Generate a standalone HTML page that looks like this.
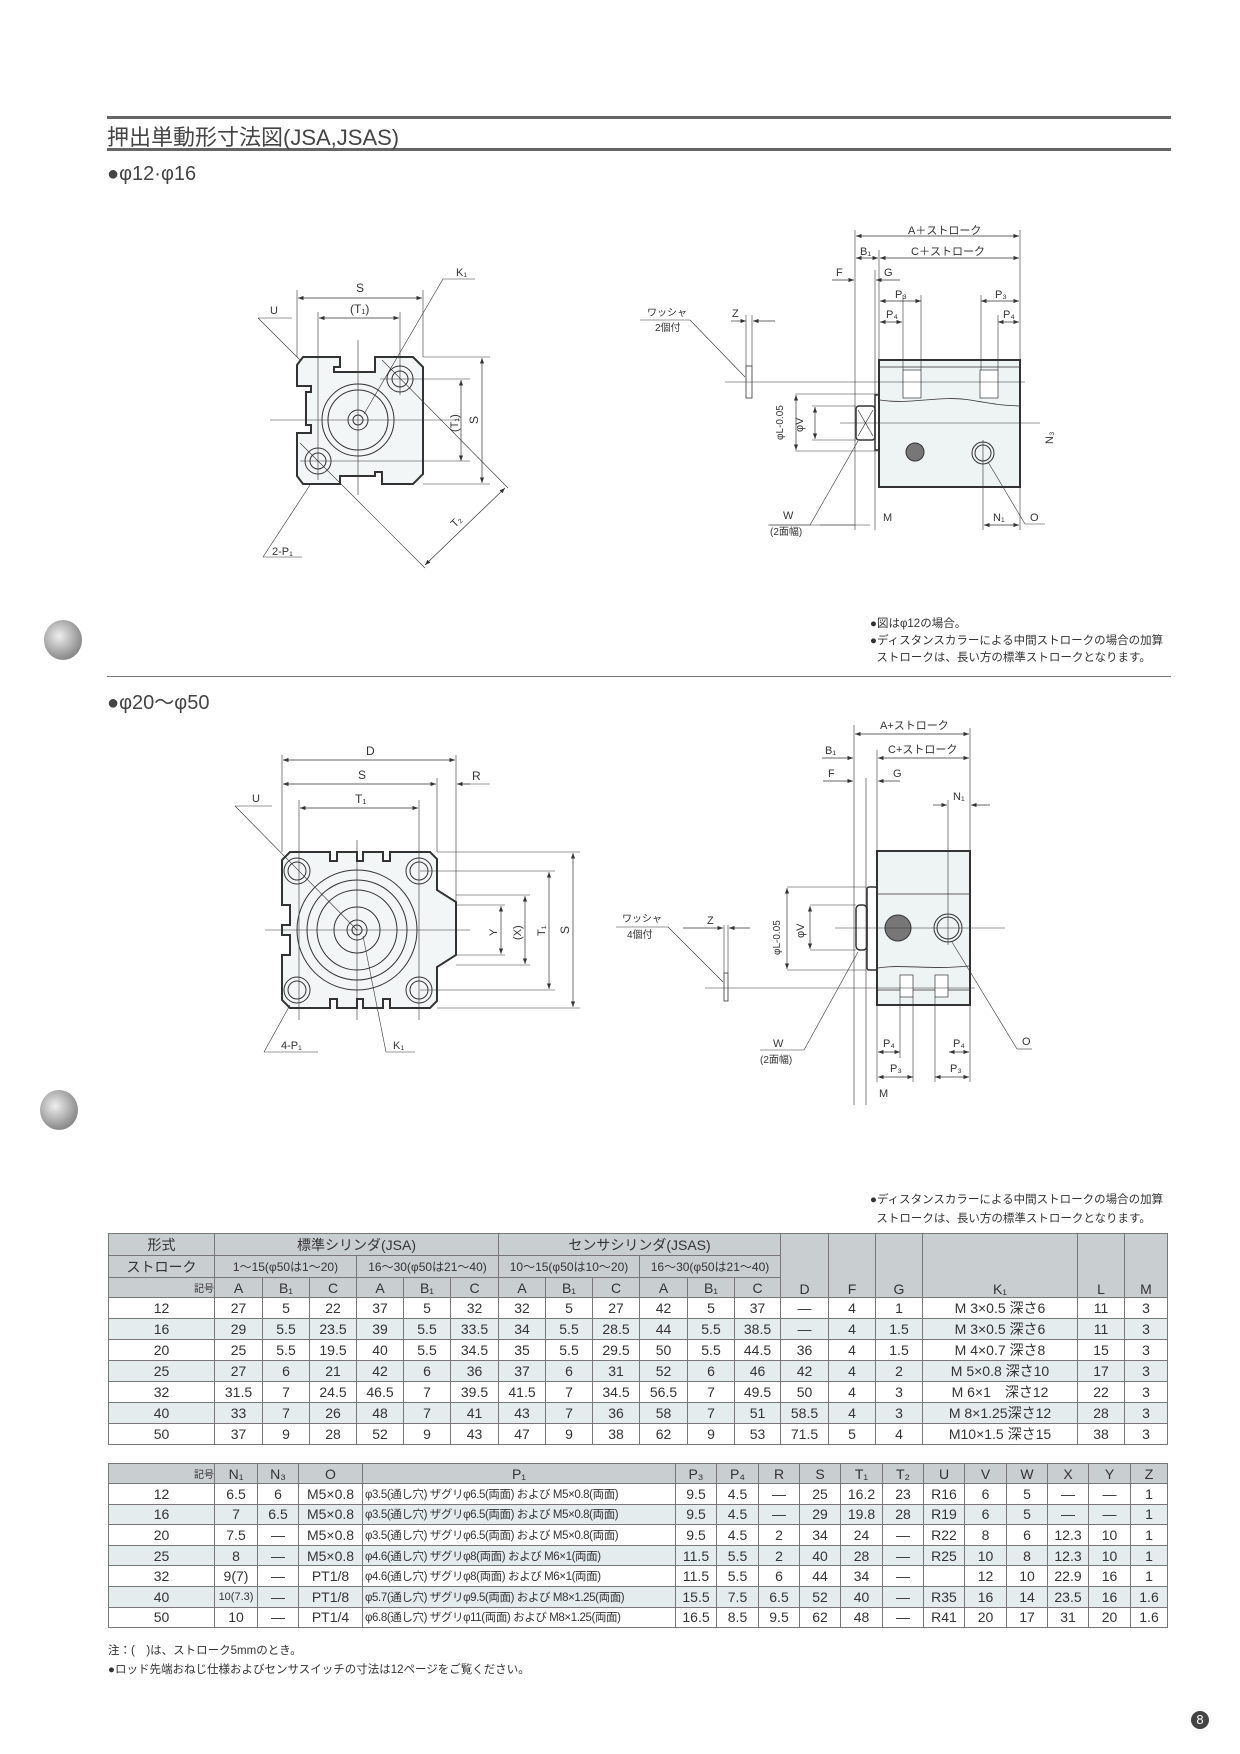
<!DOCTYPE html>
<html><head><meta charset="utf-8"><style>
body{margin:0;background:#fff;}
#pg{position:relative;width:1240px;height:1754px;overflow:hidden;background:#fff;font-family:"Liberation Sans","Noto Sans CJK JP",sans-serif;color:#333;}
.t{position:absolute;white-space:nowrap;}
table{position:absolute;border-collapse:collapse;table-layout:fixed;font-family:"Liberation Sans","Noto Sans CJK JP",sans-serif;color:#333;}
td{border:1px solid #777;text-align:center;padding:0;overflow:hidden;white-space:nowrap;font-size:14px;}
tr.h td{background:#c9ced1;}
tr.a td{background:#e4ecee;}
td.p{font-size:11.5px;letter-spacing:-0.4px;text-align:left;padding-left:2px;}
svg text{font-family:"Liberation Sans","Noto Sans CJK JP",sans-serif;fill:#333;}
</style></head><body><div id="pg">
<div style="position:absolute;left:107px;top:116px;width:1064px;height:3px;background:#666"></div>
<div style="position:absolute;left:107px;top:148px;width:1064px;height:3px;background:#666"></div>
<div class="t" style="left:107px;top:120px;font-size:22px;color:#444">押出単動形寸法図(JSA,JSAS)</div>
<div class="t" style="left:107px;top:163px;font-size:20px;color:#444">●φ12·φ16</div>
<div style="position:absolute;left:107px;top:676px;width:1064px;height:1px;background:#777"></div>
<div class="t" style="left:107px;top:686px;font-size:20px;color:#444">●φ20〜φ50</div>
<div class="t" style="left:870px;top:616px;font-size:11.5px;line-height:17px">●図はφ12の場合。<br>●ディスタンスカラーによる中間ストロークの場合の加算<br>&nbsp;&nbsp;ストロークは、長い方の標準ストロークとなります。</div>
<div class="t" style="left:870px;top:1191px;font-size:11.5px;line-height:19px">●ディスタンスカラーによる中間ストロークの場合の加算<br>&nbsp;&nbsp;ストロークは、長い方の標準ストロークとなります。</div>
<div style="position:absolute;left:44px;top:620px;width:38px;height:40px;border-radius:50%;background:radial-gradient(circle at 40% 40%,#eee,#999 60%,#666)"></div>
<div style="position:absolute;left:40px;top:1090px;width:38px;height:40px;border-radius:50%;background:radial-gradient(circle at 40% 40%,#eee,#999 60%,#666)"></div>
<div style="position:absolute;left:1191px;top:1711px;width:18px;height:18px;border-radius:50%;background:#444;color:#fff;font-size:13px;text-align:center;line-height:18px">8</div>
<div class="t" style="left:108px;top:1642px;font-size:11.5px;line-height:19px">注：(　)は、ストローク5mmのとき。<br>●ロッド先端おねじ仕様およびセンサスイッチの寸法は12ページをご覧ください。</div>

<svg width="1240" height="1754" style="position:absolute;left:0;top:0" stroke="#333" fill="none" stroke-width="1">
<defs><marker id="ar" markerWidth="8" markerHeight="6" refX="8" refY="3" orient="auto-start-reverse"><path d="M0,0L8,3L0,6z" fill="#333" stroke="none"/></marker></defs>
<!-- top-left front view -->
<path d="M303,357 L340,357 L340,367 L334,367 L334,372 L375,372 L375,357 L413,357 L423,367 L423,474 L413,484 L382,484 L382,472 L375,472 L375,476 L340,476 L340,484 L303,484 L297,476 L297,433 L311,433 L311,425 L306,425 L306,392 L311,392 L311,386 L297,386 L297,365 Z" stroke-width="2" fill="#f3f6f6"/>
<circle cx="358" cy="420" r="36"/><circle cx="358" cy="420" r="30"/><circle cx="358" cy="420" r="10"/><circle cx="358" cy="420" r="5"/>
<circle cx="400" cy="379" r="13"/><circle cx="400" cy="379" r="8"/><circle cx="318" cy="461" r="13"/><circle cx="318" cy="461" r="8"/>
<line x1="270" y1="420" x2="460" y2="420" stroke-width=".6"/><line x1="358" y1="340" x2="358" y2="495" stroke-width=".6"/>
<line x1="297" y1="290" x2="297" y2="357" stroke-width=".6"/><line x1="423" y1="290" x2="423" y2="357" stroke-width=".6"/>
<line x1="318" y1="312" x2="318" y2="480" stroke-width=".6"/><line x1="400" y1="312" x2="400" y2="395" stroke-width=".6"/>
<line x1="298" y1="298" x2="422" y2="298" marker-start="url(#ar)" marker-end="url(#ar)" stroke-width=".7"/>
<line x1="319" y1="318" x2="399" y2="318" marker-start="url(#ar)" marker-end="url(#ar)" stroke-width=".7"/>
<line x1="423" y1="357" x2="490" y2="357" stroke-width=".6"/><line x1="423" y1="484" x2="490" y2="484" stroke-width=".6"/>
<line x1="482" y1="358" x2="482" y2="483" marker-start="url(#ar)" marker-end="url(#ar)" stroke-width=".7"/>
<line x1="461" y1="380" x2="461" y2="461" marker-start="url(#ar)" marker-end="url(#ar)" stroke-width=".7"/>
<line x1="380" y1="379" x2="470" y2="379" stroke-width=".6"/><line x1="300" y1="461" x2="470" y2="461" stroke-width=".6"/>
<line x1="382" y1="360" x2="508" y2="488" stroke-width=".6"/><line x1="300" y1="443" x2="425" y2="568" stroke-width=".6"/>
<line x1="505" y1="488" x2="425" y2="565" marker-start="url(#ar)" marker-end="url(#ar)" stroke-width=".7"/>
<line x1="258" y1="318" x2="300" y2="360" stroke-width=".6"/><line x1="258" y1="318" x2="292" y2="318" stroke-width=".6"/>
<line x1="364" y1="414" x2="443" y2="279" stroke-width=".6"/><line x1="443" y1="279" x2="475" y2="279" stroke-width=".6"/>
<line x1="310" y1="485" x2="263" y2="557" stroke-width=".6"/><line x1="263" y1="557" x2="302" y2="557" stroke-width=".6"/>
<text x="356" y="292" font-size="12" stroke="none">S</text><text x="350" y="313" font-size="12" stroke="none">(T₁)</text>
<text x="456" y="276" font-size="11" stroke="none">K₁</text><text x="270" y="314" font-size="11" stroke="none">U</text>
<text x="272" y="555" font-size="11" stroke="none">2-P₁</text>
<text x="478" y="424" font-size="12" stroke="none" transform="rotate(-90 478 424)">S</text>
<text x="458" y="432" font-size="11" stroke="none" transform="rotate(-90 458 432)">(T₁)</text>
<text x="455" y="528" font-size="11" stroke="none" transform="rotate(-45 455 528)">T₂</text>

<!-- top-right side view -->
<rect x="879" y="360" width="141" height="127" stroke-width="2" fill="#eef3f3"/>
<path d="M880,367 L1019,367 M880,400 C910,405 940,395 970,400 S1000,405 1019,406" stroke-width=".8"/>
<rect x="903" y="370" width="18" height="28" fill="#fff" stroke-width=".7"/><rect x="980" y="370" width="18" height="28" fill="#fff" stroke-width=".7"/>
<rect x="875" y="395" width="4" height="55" stroke-width="1.5"/><rect x="856" y="406" width="19" height="34" stroke-width="1.5" rx="3"/>
<path d="M858,410 L873,436 M873,410 L858,436" stroke-width=".7"/>
<circle cx="915" cy="452" r="9" fill="#777"/><circle cx="983" cy="453" r="11"/><circle cx="983" cy="453" r="8"/>
<line x1="840" y1="423" x2="1040" y2="423" stroke-width=".6"/><line x1="725" y1="382" x2="1025" y2="382" stroke-width=".6"/>
<rect x="746" y="366" width="6" height="32" stroke-width=".8"/>
<line x1="855" y1="230" x2="855" y2="530" stroke-width=".6"/><line x1="879" y1="250" x2="879" y2="360" stroke-width=".6"/><line x1="1020" y1="230" x2="1020" y2="360" stroke-width=".6"/>
<line x1="875" y1="270" x2="875" y2="530" stroke-width=".6"/>
<line x1="856" y1="236" x2="1019" y2="236" marker-start="url(#ar)" marker-end="url(#ar)" stroke-width=".7"/>
<line x1="856" y1="258" x2="878" y2="258" marker-start="url(#ar)" marker-end="url(#ar)" stroke-width=".7"/>
<line x1="880" y1="258" x2="1019" y2="258" marker-start="url(#ar)" marker-end="url(#ar)" stroke-width=".7"/>
<line x1="832" y1="280" x2="854" y2="280" marker-end="url(#ar)" stroke-width=".7"/><line x1="900" y1="280" x2="876" y2="280" marker-end="url(#ar)" stroke-width=".7"/>
<line x1="880" y1="301" x2="921" y2="301" marker-start="url(#ar)" marker-end="url(#ar)" stroke-width=".7"/>
<line x1="981" y1="301" x2="1019" y2="301" marker-start="url(#ar)" marker-end="url(#ar)" stroke-width=".7"/>
<line x1="880" y1="322" x2="902" y2="322" marker-start="url(#ar)" marker-end="url(#ar)" stroke-width=".7"/>
<line x1="998" y1="322" x2="1019" y2="322" marker-start="url(#ar)" marker-end="url(#ar)" stroke-width=".7"/>
<line x1="903" y1="295" x2="903" y2="370" stroke-width=".6"/><line x1="921" y1="295" x2="921" y2="370" stroke-width=".6"/><line x1="981" y1="295" x2="981" y2="370" stroke-width=".6"/><line x1="998" y1="315" x2="998" y2="370" stroke-width=".6"/>
<line x1="795" y1="394" x2="878" y2="394" stroke-width=".6"/><line x1="795" y1="451" x2="878" y2="451" stroke-width=".6"/>
<line x1="796" y1="395" x2="796" y2="450" marker-start="url(#ar)" marker-end="url(#ar)" stroke-width=".7"/>
<line x1="815" y1="407" x2="815" y2="439" marker-start="url(#ar)" marker-end="url(#ar)" stroke-width=".7"/>
<line x1="812" y1="406" x2="856" y2="406" stroke-width=".6"/><line x1="812" y1="440" x2="856" y2="440" stroke-width=".6"/>
<line x1="731" y1="321" x2="746" y2="321" marker-end="url(#ar)" stroke-width=".7"/><line x1="775" y1="321" x2="753" y2="321" marker-end="url(#ar)" stroke-width=".7"/>
<line x1="746" y1="315" x2="746" y2="366" stroke-width=".6"/><line x1="752" y1="315" x2="752" y2="366" stroke-width=".6"/>
<line x1="640" y1="320" x2="690" y2="320" stroke-width=".6"/><line x1="690" y1="320" x2="745" y2="377" stroke-width=".6"/>
<line x1="768" y1="525" x2="855" y2="525" stroke-width=".6"/><line x1="820" y1="525" x2="870" y2="525" stroke-width=".6"/>
<line x1="983" y1="440" x2="983" y2="530" stroke-width=".6"/><line x1="984" y1="525" x2="1019" y2="525" marker-start="url(#ar)" marker-end="url(#ar)" stroke-width=".7"/>
<line x1="1020" y1="487" x2="1020" y2="530" stroke-width=".6"/><line x1="988" y1="462" x2="1025" y2="524" stroke-width=".6"/><line x1="1025" y1="524" x2="1045" y2="524" stroke-width=".6"/>
<line x1="858" y1="441" x2="810" y2="525" stroke-width=".6"/><line x1="770" y1="525" x2="810" y2="525" stroke-width=".6"/>
<text x="908" y="234" font-size="11" stroke="none">A＋ストローク</text><text x="911" y="255" font-size="11" stroke="none">C＋ストローク</text>
<text x="860" y="255" font-size="11" stroke="none">B₁</text><text x="836" y="276" font-size="11" stroke="none">F</text><text x="884" y="276" font-size="11" stroke="none">G</text>
<text x="895" y="298" font-size="11" stroke="none">P₃</text><text x="995" y="298" font-size="11" stroke="none">P₃</text>
<text x="886" y="318" font-size="11" stroke="none">P₄</text><text x="1003" y="318" font-size="11" stroke="none">P₄</text>
<text x="732" y="317" font-size="11" stroke="none">Z</text><text x="647" y="316" font-size="10" stroke="none">ワッシャ</text><text x="655" y="331" font-size="10" stroke="none">2個付</text>
<text x="783" y="440" font-size="10" stroke="none" transform="rotate(-90 783 440)">φL-0.05</text><text x="803" y="432" font-size="11" stroke="none" transform="rotate(-90 803 432)">φV</text>
<text x="1053" y="444" font-size="11" stroke="none" transform="rotate(-90 1053 444)">N₃</text>
<text x="783" y="519" font-size="11" stroke="none">W</text><text x="770" y="535" font-size="10" stroke="none">(2面幅)</text>
<text x="883" y="521" font-size="11" stroke="none">M</text><text x="993" y="521" font-size="11" stroke="none">N₁</text><text x="1030" y="521" font-size="11" stroke="none">O</text>

<!-- bottom-left front view -->
<path d="M290,852 L330,852 L330,861 L337,861 L337,852 L357,852 L357,861 L363,861 L363,852 L383,852 L383,861 L390,861 L390,852 L430,852 L437,859 L437,890 L456,902 L456,955 L437,967 L437,1001 L430,1008 L390,1008 L390,999 L383,999 L383,1008 L363,1008 L363,999 L357,999 L357,1008 L337,1008 L337,999 L330,999 L330,1008 L290,1008 L282,1000 L282,955 L290,955 L290,935 L282,935 L282,925 L290,925 L290,905 L282,905 L282,860 Z" stroke-width="2" fill="#f3f6f6"/>
<circle cx="357" cy="930" r="60"/><circle cx="357" cy="930" r="50"/><circle cx="357" cy="930" r="40"/><circle cx="357" cy="930" r="23"/><circle cx="357" cy="930" r="10"/><circle cx="357" cy="930" r="5"/>
<g><circle cx="297" cy="871" r="13"/><circle cx="297" cy="871" r="9"/><circle cx="419" cy="871" r="13"/><circle cx="419" cy="871" r="9"/><circle cx="297" cy="990" r="13"/><circle cx="297" cy="990" r="9"/><circle cx="419" cy="990" r="13"/><circle cx="419" cy="990" r="9"/></g>
<line x1="265" y1="930" x2="470" y2="930" stroke-width=".6"/><line x1="357" y1="840" x2="357" y2="1020" stroke-width=".6"/>
<line x1="299" y1="800" x2="299" y2="1020" stroke-width=".6"/><line x1="419" y1="800" x2="419" y2="1020" stroke-width=".6"/>
<line x1="282" y1="755" x2="282" y2="852" stroke-width=".6"/><line x1="456" y1="755" x2="456" y2="902" stroke-width=".6"/><line x1="437" y1="778" x2="437" y2="852" stroke-width=".6"/>
<line x1="283" y1="760" x2="455" y2="760" marker-start="url(#ar)" marker-end="url(#ar)" stroke-width=".7"/>
<line x1="283" y1="784" x2="436" y2="784" marker-start="url(#ar)" marker-end="url(#ar)" stroke-width=".7"/>
<line x1="457" y1="784" x2="490" y2="784" stroke-width=".6"/><line x1="457" y1="784" x2="470" y2="784" marker-start="url(#ar)" stroke-width=".7"/>
<line x1="300" y1="808" x2="418" y2="808" marker-start="url(#ar)" marker-end="url(#ar)" stroke-width=".7"/>
<line x1="437" y1="852" x2="580" y2="852" stroke-width=".6"/><line x1="437" y1="1008" x2="580" y2="1008" stroke-width=".6"/>
<line x1="420" y1="871" x2="555" y2="871" stroke-width=".6"/><line x1="420" y1="990" x2="555" y2="990" stroke-width=".6"/>
<line x1="456" y1="895" x2="530" y2="895" stroke-width=".6"/><line x1="456" y1="965" x2="530" y2="965" stroke-width=".6"/>
<line x1="456" y1="905" x2="505" y2="905" stroke-width=".6"/><line x1="456" y1="955" x2="505" y2="955" stroke-width=".6"/>
<line x1="501" y1="906" x2="501" y2="954" marker-start="url(#ar)" marker-end="url(#ar)" stroke-width=".7"/>
<line x1="525" y1="896" x2="525" y2="964" marker-start="url(#ar)" marker-end="url(#ar)" stroke-width=".7"/>
<line x1="549" y1="872" x2="549" y2="989" marker-start="url(#ar)" marker-end="url(#ar)" stroke-width=".7"/>
<line x1="573" y1="853" x2="573" y2="1007" marker-start="url(#ar)" marker-end="url(#ar)" stroke-width=".7"/>
<line x1="235" y1="806" x2="357" y2="930" stroke-width=".6"/><line x1="235" y1="806" x2="272" y2="806" stroke-width=".6"/>
<line x1="363" y1="936" x2="386" y2="1052" stroke-width=".6"/><line x1="386" y1="1052" x2="415" y2="1052" stroke-width=".6"/>
<line x1="290" y1="1005" x2="264" y2="1052" stroke-width=".6"/><line x1="264" y1="1052" x2="318" y2="1052" stroke-width=".6"/>
<text x="366" y="755" font-size="12" stroke="none">D</text><text x="358" y="779" font-size="12" stroke="none">S</text><text x="472" y="780" font-size="12" stroke="none">R</text>
<text x="355" y="803" font-size="12" stroke="none">T₁</text><text x="252" y="802" font-size="11" stroke="none">U</text>
<text x="281" y="1049" font-size="11" stroke="none">4-P₁</text><text x="393" y="1049" font-size="11" stroke="none">K₁</text>
<text x="497" y="936" font-size="11" stroke="none" transform="rotate(-90 497 936)">Y</text>
<text x="521" y="940" font-size="11" stroke="none" transform="rotate(-90 521 940)">(X)</text>
<text x="545" y="936" font-size="11" stroke="none" transform="rotate(-90 545 936)">T₁</text>
<text x="569" y="934" font-size="12" stroke="none" transform="rotate(-90 569 934)">S</text>

<!-- bottom-right side view -->
<rect x="877" y="851" width="93" height="154" stroke-width="2" fill="#eef3f3"/>
<path d="M878,894 L969,894 M878,968 C900,964 930,970 969,966 M878,990 L969,990" stroke-width=".8"/>
<rect x="900" y="975" width="13" height="22" fill="#fff" stroke-width=".7"/><rect x="935" y="975" width="13" height="22" fill="#fff" stroke-width=".7"/>
<rect x="867" y="887" width="10" height="83" stroke-width="1.5" rx="2"/><rect x="856" y="905" width="11" height="45" stroke-width="1.5" rx="4"/>
<circle cx="898" cy="928" r="13" fill="#777"/><circle cx="948" cy="928" r="14"/><circle cx="948" cy="928" r="11"/>
<line x1="835" y1="928" x2="1005" y2="928" stroke-width=".6"/><line x1="705" y1="988" x2="975" y2="988" stroke-width=".6"/>
<rect x="724" y="973" width="4" height="28" stroke-width=".8"/>
<line x1="854" y1="725" x2="854" y2="1105" stroke-width=".6"/><line x1="866" y1="778" x2="866" y2="1105" stroke-width=".6"/>
<line x1="877" y1="750" x2="877" y2="851" stroke-width=".6"/><line x1="970" y1="728" x2="970" y2="851" stroke-width=".6"/>
<line x1="855" y1="734" x2="969" y2="734" marker-start="url(#ar)" marker-end="url(#ar)" stroke-width=".7"/>
<line x1="822" y1="758" x2="853" y2="758" marker-end="url(#ar)" stroke-width=".7"/>
<line x1="878" y1="758" x2="969" y2="758" marker-start="url(#ar)" marker-end="url(#ar)" stroke-width=".7"/>
<line x1="823" y1="781" x2="853" y2="781" marker-end="url(#ar)" stroke-width=".7"/><line x1="900" y1="781" x2="878" y2="781" marker-end="url(#ar)" stroke-width=".7"/>
<line x1="933" y1="805" x2="947" y2="805" marker-end="url(#ar)" stroke-width=".7"/><line x1="990" y1="805" x2="971" y2="805" marker-end="url(#ar)" stroke-width=".7"/>
<line x1="948" y1="800" x2="948" y2="945" stroke-width=".6"/>
<line x1="878" y1="1052" x2="900" y2="1052" marker-start="url(#ar)" marker-end="url(#ar)" stroke-width=".7"/>
<line x1="949" y1="1052" x2="969" y2="1052" marker-start="url(#ar)" marker-end="url(#ar)" stroke-width=".7"/>
<line x1="878" y1="1077" x2="913" y2="1077" marker-start="url(#ar)" marker-end="url(#ar)" stroke-width=".7"/>
<line x1="935" y1="1077" x2="969" y2="1077" marker-start="url(#ar)" marker-end="url(#ar)" stroke-width=".7"/>
<line x1="877" y1="1005" x2="877" y2="1082" stroke-width=".6"/><line x1="900" y1="997" x2="900" y2="1058" stroke-width=".6"/><line x1="913" y1="997" x2="913" y2="1082" stroke-width=".6"/><line x1="935" y1="997" x2="935" y2="1082" stroke-width=".6"/><line x1="970" y1="1005" x2="970" y2="1082" stroke-width=".6"/>
<line x1="787" y1="887" x2="866" y2="887" stroke-width=".6"/><line x1="787" y1="970" x2="866" y2="970" stroke-width=".6"/>
<line x1="787" y1="888" x2="787" y2="969" marker-start="url(#ar)" marker-end="url(#ar)" stroke-width=".7"/>
<line x1="810" y1="905" x2="856" y2="905" stroke-width=".6"/><line x1="810" y1="950" x2="856" y2="950" stroke-width=".6"/>
<line x1="810" y1="906" x2="810" y2="949" marker-start="url(#ar)" marker-end="url(#ar)" stroke-width=".7"/>
<line x1="683" y1="928" x2="723" y2="928" marker-end="url(#ar)" stroke-width=".7"/><line x1="750" y1="928" x2="729" y2="928" marker-end="url(#ar)" stroke-width=".7"/>
<line x1="724" y1="925" x2="724" y2="973" stroke-width=".6"/><line x1="728" y1="925" x2="728" y2="973" stroke-width=".6"/>
<line x1="616" y1="927" x2="668" y2="927" stroke-width=".6"/><line x1="668" y1="927" x2="723" y2="982" stroke-width=".6"/>
<line x1="858" y1="952" x2="804" y2="1050" stroke-width=".6"/><line x1="760" y1="1050" x2="804" y2="1050" stroke-width=".6"/>
<line x1="952" y1="942" x2="1017" y2="1049" stroke-width=".6"/><line x1="1017" y1="1049" x2="1032" y2="1049" stroke-width=".6"/>
<text x="880" y="729" font-size="11" stroke="none">A+ストローク</text><text x="888" y="753" font-size="11" stroke="none">C+ストローク</text>
<text x="825" y="754" font-size="11" stroke="none">B₁</text><text x="828" y="777" font-size="11" stroke="none">F</text><text x="893" y="777" font-size="11" stroke="none">G</text>
<text x="953" y="800" font-size="11" stroke="none">N₁</text>
<text x="883" y="1047" font-size="11" stroke="none">P₄</text><text x="953" y="1047" font-size="11" stroke="none">P₄</text>
<text x="890" y="1072" font-size="11" stroke="none">P₃</text><text x="950" y="1072" font-size="11" stroke="none">P₃</text>
<text x="879" y="1097" font-size="11" stroke="none">M</text><text x="1022" y="1045" font-size="11" stroke="none">O</text>
<text x="707" y="924" font-size="11" stroke="none">Z</text><text x="622" y="922" font-size="10" stroke="none">ワッシャ</text><text x="627" y="938" font-size="10" stroke="none">4個付</text>
<text x="780" y="955" font-size="10" stroke="none" transform="rotate(-90 780 955)">φL-0.05</text><text x="804" y="938" font-size="11" stroke="none" transform="rotate(-90 804 938)">φV</text>
<text x="773" y="1047" font-size="11" stroke="none">W</text><text x="760" y="1063" font-size="10" stroke="none">(2面幅)</text>
</svg>

<table style="left:108px;top:1233px;width:1059px">
<colgroup><col style="width:106px"><col style="width:48px"><col style="width:47px"><col style="width:47px"><col style="width:47px"><col style="width:47px"><col style="width:48px"><col style="width:47px"><col style="width:47px"><col style="width:47px"><col style="width:48px"><col style="width:47px"><col style="width:46px"><col style="width:48px"><col style="width:47px"><col style="width:47px"><col style="width:155px"><col style="width:47px"><col style="width:43px"></colgroup>
<tr class="h" style="height:22px"><td>形式</td><td colspan="6">標準シリンダ(JSA)</td><td colspan="6">センサシリンダ(JSAS)</td><td rowspan="3" style="vertical-align:bottom">D</td><td rowspan="3" style="vertical-align:bottom">F</td><td rowspan="3" style="vertical-align:bottom">G</td><td rowspan="3" style="vertical-align:bottom">K₁</td><td rowspan="3" style="vertical-align:bottom">L</td><td rowspan="3" style="vertical-align:bottom">M</td></tr>
<tr class="h" style="height:22px;font-size:12px"><td>ストローク</td><td colspan="3" style="font-size:12px">1〜15(φ50は1〜20)</td><td colspan="3" style="font-size:12px">16〜30(φ50は21〜40)</td><td colspan="3" style="font-size:12px">10〜15(φ50は10〜20)</td><td colspan="3" style="font-size:12px">16〜30(φ50は21〜40)</td></tr>
<tr class="h" style="height:20px"><td style="font-size:10px;text-align:right">記号</td><td>A</td><td>B₁</td><td>C</td><td>A</td><td>B₁</td><td>C</td><td>A</td><td>B₁</td><td>C</td><td>A</td><td>B₁</td><td>C</td></tr>
<tr style="height:20.6px"><td>12</td><td>27</td><td>5</td><td>22</td><td>37</td><td>5</td><td>32</td><td>32</td><td>5</td><td>27</td><td>42</td><td>5</td><td>37</td><td>—</td><td>4</td><td>1</td><td>M 3×0.5 深さ6</td><td>11</td><td>3</td></tr>
<tr class="a" style="height:20.6px"><td>16</td><td>29</td><td>5.5</td><td>23.5</td><td>39</td><td>5.5</td><td>33.5</td><td>34</td><td>5.5</td><td>28.5</td><td>44</td><td>5.5</td><td>38.5</td><td>—</td><td>4</td><td>1.5</td><td>M 3×0.5 深さ6</td><td>11</td><td>3</td></tr>
<tr style="height:20.6px"><td>20</td><td>25</td><td>5.5</td><td>19.5</td><td>40</td><td>5.5</td><td>34.5</td><td>35</td><td>5.5</td><td>29.5</td><td>50</td><td>5.5</td><td>44.5</td><td>36</td><td>4</td><td>1.5</td><td>M 4×0.7 深さ8</td><td>15</td><td>3</td></tr>
<tr class="a" style="height:20.6px"><td>25</td><td>27</td><td>6</td><td>21</td><td>42</td><td>6</td><td>36</td><td>37</td><td>6</td><td>31</td><td>52</td><td>6</td><td>46</td><td>42</td><td>4</td><td>2</td><td>M 5×0.8 深さ10</td><td>17</td><td>3</td></tr>
<tr style="height:20.6px"><td>32</td><td>31.5</td><td>7</td><td>24.5</td><td>46.5</td><td>7</td><td>39.5</td><td>41.5</td><td>7</td><td>34.5</td><td>56.5</td><td>7</td><td>49.5</td><td>50</td><td>4</td><td>3</td><td>M 6×1　深さ12</td><td>22</td><td>3</td></tr>
<tr class="a" style="height:20.6px"><td>40</td><td>33</td><td>7</td><td>26</td><td>48</td><td>7</td><td>41</td><td>43</td><td>7</td><td>36</td><td>58</td><td>7</td><td>51</td><td>58.5</td><td>4</td><td>3</td><td>M 8×1.25深さ12</td><td>28</td><td>3</td></tr>
<tr style="height:20.6px"><td>50</td><td>37</td><td>9</td><td>28</td><td>52</td><td>9</td><td>43</td><td>47</td><td>9</td><td>38</td><td>62</td><td>9</td><td>53</td><td>71.5</td><td>5</td><td>4</td><td>M10×1.5 深さ15</td><td>38</td><td>3</td></tr>
</table>

<table style="left:108px;top:1463px;width:1059px">
<colgroup><col style="width:106px"><col style="width:43px"><col style="width:41px"><col style="width:64px"><col style="width:313px"><col style="width:41px"><col style="width:42px"><col style="width:41px"><col style="width:41px"><col style="width:42px"><col style="width:41px"><col style="width:41px"><col style="width:42px"><col style="width:41px"><col style="width:41px"><col style="width:42px"><col style="width:37px"></colgroup>
<tr class="h" style="height:20px"><td style="font-size:10px;text-align:right">記号</td><td>N₁</td><td>N₃</td><td>O</td><td>P₁</td><td>P₃</td><td>P₄</td><td>R</td><td>S</td><td>T₁</td><td>T₂</td><td>U</td><td>V</td><td>W</td><td>X</td><td>Y</td><td>Z</td></tr>
<tr style="height:20.6px"><td>12</td><td>6.5</td><td>6</td><td>M5×0.8</td><td class="p">φ3.5(通し穴) ザグリφ6.5(両面) および M5×0.8(両面)</td><td>9.5</td><td>4.5</td><td>—</td><td>25</td><td>16.2</td><td>23</td><td>R16</td><td>6</td><td>5</td><td>—</td><td>—</td><td>1</td></tr>
<tr class="a" style="height:20.6px"><td>16</td><td>7</td><td>6.5</td><td>M5×0.8</td><td class="p">φ3.5(通し穴) ザグリφ6.5(両面) および M5×0.8(両面)</td><td>9.5</td><td>4.5</td><td>—</td><td>29</td><td>19.8</td><td>28</td><td>R19</td><td>6</td><td>5</td><td>—</td><td>—</td><td>1</td></tr>
<tr style="height:20.6px"><td>20</td><td>7.5</td><td>—</td><td>M5×0.8</td><td class="p">φ3.5(通し穴) ザグリφ6.5(両面) および M5×0.8(両面)</td><td>9.5</td><td>4.5</td><td>2</td><td>34</td><td>24</td><td>—</td><td>R22</td><td>8</td><td>6</td><td>12.3</td><td>10</td><td>1</td></tr>
<tr class="a" style="height:20.6px"><td>25</td><td>8</td><td>—</td><td>M5×0.8</td><td class="p">φ4.6(通し穴) ザグリφ8(両面) および M6×1(両面)</td><td>11.5</td><td>5.5</td><td>2</td><td>40</td><td>28</td><td>—</td><td>R25</td><td>10</td><td>8</td><td>12.3</td><td>10</td><td>1</td></tr>
<tr style="height:20.6px"><td>32</td><td>9(7)</td><td>—</td><td>PT1/8</td><td class="p">φ4.6(通し穴) ザグリφ8(両面) および M6×1(両面)</td><td>11.5</td><td>5.5</td><td>6</td><td>44</td><td>34</td><td>—</td><td></td><td>12</td><td>10</td><td>22.9</td><td>16</td><td>1</td></tr>
<tr class="a" style="height:20.6px"><td>40</td><td style="font-size:11px">10(7.3)</td><td>—</td><td>PT1/8</td><td class="p">φ5.7(通し穴) ザグリφ9.5(両面) および M8×1.25(両面)</td><td>15.5</td><td>7.5</td><td>6.5</td><td>52</td><td>40</td><td>—</td><td>R35</td><td>16</td><td>14</td><td>23.5</td><td>16</td><td>1.6</td></tr>
<tr style="height:20.6px"><td>50</td><td>10</td><td>—</td><td>PT1/4</td><td class="p">φ6.8(通し穴) ザグリφ11(両面) および M8×1.25(両面)</td><td>16.5</td><td>8.5</td><td>9.5</td><td>62</td><td>48</td><td>—</td><td>R41</td><td>20</td><td>17</td><td>31</td><td>20</td><td>1.6</td></tr>
</table>
</div></body></html>
